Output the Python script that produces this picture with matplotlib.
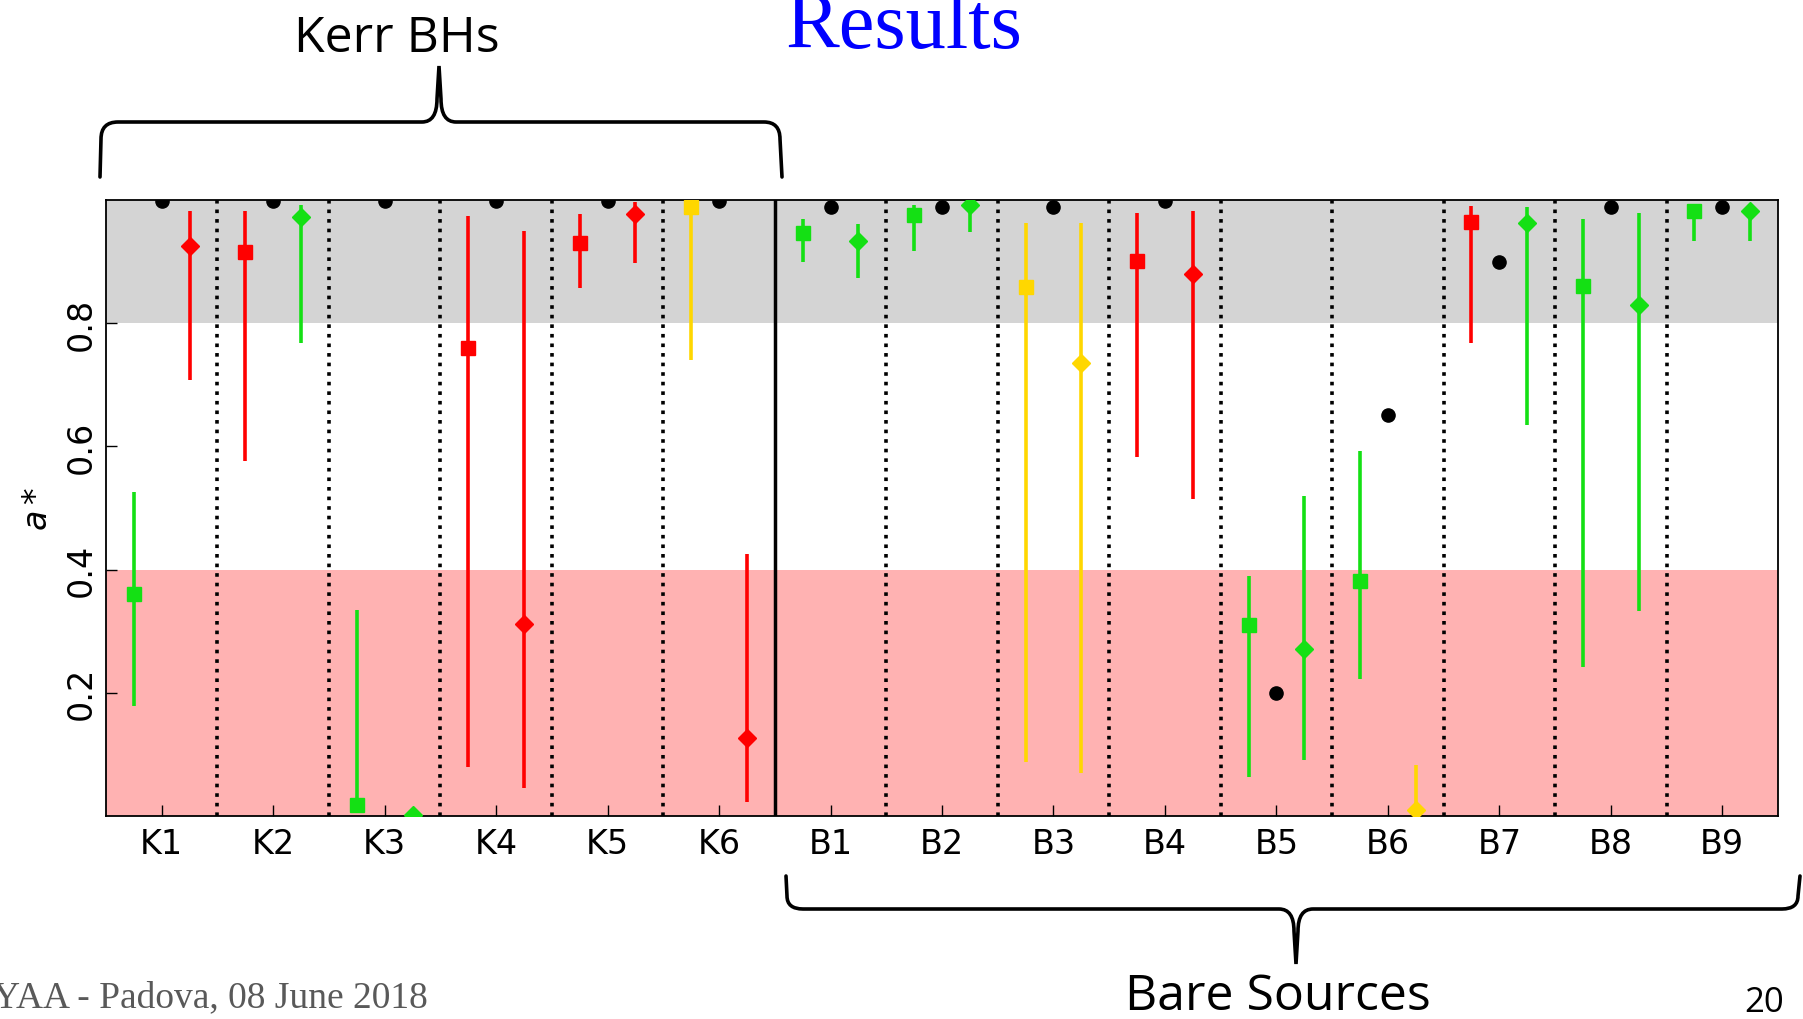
import numpy as np
import matplotlib.pyplot as plt
from matplotlib.path import Path
from matplotlib.patches import PathPatch

W, H = 1803, 1020

labels = ['K1', 'K2', 'K3', 'K4', 'K5', 'K6',
          'B1', 'B2', 'B3', 'B4', 'B5', 'B6', 'B7', 'B8', 'B9']

# reference spin values (black dots)
spin_ref = [0.998, 0.998, 0.998, 0.998, 0.998, 0.998,
            0.989, 0.989, 0.989, 0.998, 0.200, 0.651, 0.900, 0.989, 0.989]

# first fit (squares): best value, lower and upper bound, colour
sq_val = [0.360, 0.915, 0.018, 0.760, 0.930, 0.989,
          0.947, 0.975, 0.858, 0.901, 0.310, 0.382, 0.964, 0.861, 0.982]
sq_lo = [0.179, 0.577, 0.010, 0.080, 0.857, 0.740,
         0.900, 0.918, 0.088, 0.583, 0.063, 0.223, 0.768, 0.242, 0.934]
sq_hi = [0.526, 0.982, 0.334, 0.974, 0.977, 0.998,
         0.969, 0.992, 0.963, 0.979, 0.389, 0.592, 0.990, 0.969, 0.992]
sq_col = ['g', 'r', 'g', 'r', 'r', 'y',
          'g', 'g', 'y', 'r', 'g', 'g', 'r', 'g', 'g']

# second fit (diamonds)
dm_val = [0.925, 0.973, 0.002, 0.311, 0.978, 0.126,
          0.933, 0.992, 0.735, 0.880, 0.271, 0.010, 0.962, 0.830, 0.982]
dm_lo = [0.708, 0.768, 0.002, 0.045, 0.897, 0.022,
         0.873, 0.948, 0.069, 0.514, 0.091, 0.000, 0.635, 0.333, 0.934]
dm_hi = [0.982, 0.992, 0.002, 0.950, 0.996, 0.426,
         0.961, 1.000, 0.963, 0.982, 0.520, 0.083, 0.988, 0.979, 0.992]
dm_col = ['r', 'g', 'g', 'r', 'r', 'r',
          'g', 'g', 'y', 'r', 'g', 'y', 'g', 'g', 'g']

colours = {'r': '#ff0000', 'g': '#14e014', 'y': '#ffd700'}

fig = plt.figure(figsize=(W / 100, H / 100), dpi=100)
ax = fig.add_axes([106 / W, 1 - 817 / H, (1778 - 106) / W, (817 - 201) / H])

x = np.arange(1, len(labels) + 1)

ax.axhspan(0.8, 1.0, color='#d4d4d4', lw=0, zorder=0)
ax.axhspan(0.0, 0.4, color='red', alpha=0.3, lw=0, zorder=0)

for xb in x[:-1] + 0.5:
    if xb == 6.5:
        ax.axvline(xb, color='k', lw=2.5, zorder=1)
    else:
        ax.axvline(xb, color='k', ls=':', lw=2.6, zorder=1)

def draw_fits(xs, vals, lo, hi, cols, marker):
    for xi, v, l, h, c in zip(xs, vals, lo, hi, cols):
        col = colours[c]
        ax.errorbar([xi], [v], yerr=[[v - l], [h - v]], fmt=marker, color=col,
                    mec=col, ms=9.5, elinewidth=2.6, capsize=0, zorder=3)

draw_fits(x - 0.25, sq_val, sq_lo, sq_hi, sq_col, 's')
draw_fits(x + 0.25, dm_val, dm_lo, dm_hi, dm_col, 'D')
ax.plot(x, spin_ref, 'o', color='k', ms=9.5, zorder=4)

ax.set_xlim(0.5, len(labels) + 0.5)
ax.set_ylim(0, 1)
ax.set_xticks(x)
ax.set_xticklabels(labels, fontsize=24)
ax.set_yticks([0.2, 0.4, 0.6, 0.8])
ax.set_yticklabels(['0.2', '0.4', '0.6', '0.8'], fontsize=24,
                   rotation=90, va='center')
ax.tick_params(direction='in', length=8, width=1, top=False, right=False)
ax.tick_params(axis='x', pad=8)
ax.tick_params(axis='y', pad=6)
ax.set_ylabel('$a*$', fontsize=24, labelpad=8)
for sp in ax.spines.values():
    sp.set_linewidth(1.3)


def px(xp, yp):
    return (xp / W, 1 - yp / H)


def brace(points, codes):
    verts = [px(*p) for p in points]
    patch = PathPatch(Path(verts, codes), transform=fig.transFigure,
                      fill=False, lw=2.6, color='k', capstyle='round')
    fig.add_artist(patch)


M, L, C = Path.MOVETO, Path.LINETO, Path.CURVE3

# upper brace over the Kerr black holes
brace([(100, 178), (101, 140), (101, 123), (118, 123), (422, 123),
       (437, 123), (437, 100), (439, 67), (441, 100), (441, 123),
       (456, 123), (764, 123), (780, 123), (780, 140), (782, 178)],
      [M, L, C, C, L, C, C, L, L, C, C, L, C, C, L])

# lower brace under the bare sources
brace([(786, 877), (787, 897), (787, 910), (803, 910), (1279, 910),
       (1294, 910), (1294, 932), (1296, 965), (1298, 932), (1298, 910),
       (1313, 910), (1782, 910), (1798, 910), (1798, 897), (1800, 877)],
      [M, L, C, C, L, C, C, L, L, C, C, L, C, C, L])

fig.text(*px(397, 52), 'Kerr BHs', family='Open Sans', fontsize=36,
         ha='center', va='baseline')
fig.text(*px(1278, 1010), 'Bare Sources', family='Open Sans', fontsize=36,
         ha='center', va='baseline')
fig.text(*px(786, 48), 'Results', family='Liberation Serif', fontsize=58,
         color='#0000ff', ha='left', va='baseline')
fig.text(*px(428, 1007), 'YAA - Padova, 08 June 2018',
         family='Liberation Serif', fontsize=27, color='#595959',
         ha='right', va='baseline')
fig.text(*px(1764, 1012), '20', family='Open Sans', fontsize=25,
         ha='center', va='baseline')

fig.savefig('out.png', dpi=100)
